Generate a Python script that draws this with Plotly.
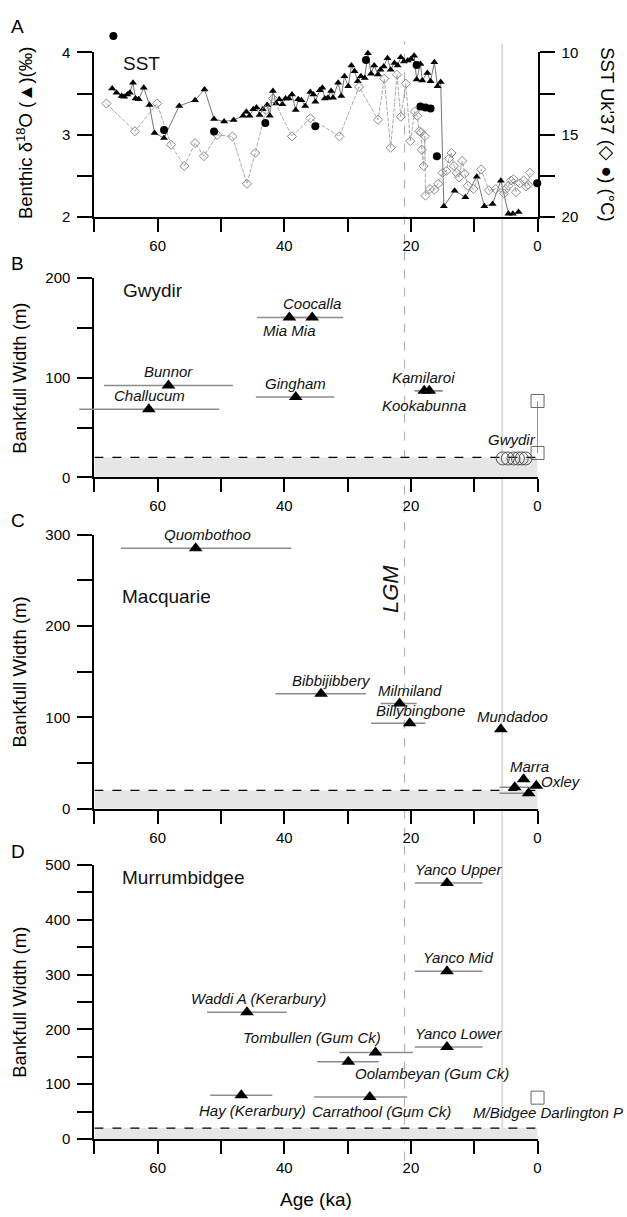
import plotly.graph_objects as go

W, H = 627, 1217

# ---------------- Panel A data ----------------
d18o_age = [67.2, 66.5, 65.7, 65.3, 64.8, 64.4, 63.9, 63.5, 63.0, 62.2, 61.3, 60.5, 59.0, 56.6, 54.1, 52.6,
            51.1, 49.5, 48.0, 46.5, 46.0, 45.5, 44.9, 44.4, 43.9, 43.4, 42.7, 42.3, 41.8, 41.3, 40.8, 40.3,
            39.8, 39.3, 38.8, 38.2, 37.8, 37.3, 36.7, 35.9, 35.4, 35.1, 34.4, 34.0, 33.6, 33.1, 32.6, 32.3,
            31.5, 31.0, 30.5, 29.9, 29.4, 28.9, 28.4, 27.9, 27.3, 26.8, 26.3, 25.8, 25.2, 24.8, 24.3, 23.7,
            23.2, 22.6, 22.1, 21.6, 21.1, 20.5, 20.0, 19.5, 19.1, 18.5, 18.2, 17.4, 16.9, 16.3, 15.8, 15.3,
            14.8, 13.1, 11.4, 9.6, 8.4, 7.1, 5.8, 4.6, 3.9, 3.0]
d18o_val = [3.56, 3.51, 3.47, 3.46, 3.49, 3.51, 3.63, 3.44, 3.43, 3.57, 3.36, 3.02, 2.96, 3.35, 3.42, 3.55,
            3.19, 3.16, 3.18, 3.23, 3.28, 3.23, 3.31, 3.33, 3.24, 3.31, 3.36, 3.23, 3.53, 3.38, 3.43, 3.37,
            3.44, 3.44, 3.49, 3.30, 3.43, 3.42, 3.35, 3.52, 3.49, 3.40, 3.54, 3.57, 3.44, 3.45, 3.53, 3.45,
            3.63, 3.47, 3.71, 3.59, 3.84, 3.77, 3.65, 3.71, 3.69, 3.99, 3.74, 3.84, 3.73, 3.79, 3.83, 3.93,
            3.79, 3.87, 3.84, 3.94, 3.89, 3.90, 3.92, 3.96, 3.67, 3.86, 3.66, 3.75, 3.65, 3.88, 3.59, 3.64,
            2.13, 2.32, 2.24, 2.49, 2.13, 2.16, 2.44, 2.04, 2.04, 2.06]

uk37_age = [68.1, 63.6, 60.1, 57.9, 55.8, 54.1, 52.7, 50.6, 48.2, 45.9, 44.6, 42.9, 41.8, 38.8, 35.9,
            31.3, 28.2, 25.2, 24.2, 23.2, 22.2, 21.6, 20.8, 20.1, 19.4, 19.0, 18.7, 18.4, 18.3, 18.0, 17.8,
            17.7, 17.0, 16.3, 15.7, 15.0, 14.4, 14.0, 13.6, 13.2, 12.8, 12.4, 11.9, 11.5, 11.0, 10.1, 8.9,
            7.7, 6.6, 5.3, 5.0, 4.6, 4.2, 3.8, 3.4, 2.8, 2.2, 1.8, 1.5, 1.2]
uk37_sst = [13.11, 14.79, 13.11, 15.61, 16.90, 15.51, 16.30, 15.01, 15.11, 17.98, 16.11, 13.5, 12.8, 15.1, 14.0,
            15.1, 12.1, 14.09, 11.6, 15.79, 11.36, 13.91, 11.9, 15.39, 13.59, 13.85, 14.79, 14.85, 15.91, 16.9, 15.09,
            18.7, 18.30, 18.34, 17.98, 17.31, 17.2, 16.45, 16.11, 16.9, 17.31, 17.59, 16.59, 17.38, 18.1, 18.3, 17.11,
            18.38, 18.3, 18.58, 18.3, 18.1, 17.78, 17.7, 18.49, 17.95, 17.78, 18.14, 18.04, 17.31]

sst2_age = [67.0, 59.0, 51.1, 43.0, 35.1, 27.1, 19.1, 18.5, 17.7, 16.9, 15.9, 0.05]
sst2_val = [9.0, 14.71, 14.81, 14.29, 14.49, 10.46, 10.76, 13.29, 13.35, 13.41, 16.31, 17.95]

# ---------------- Panel B: Gwydir ----------------
gw_names = ["Challucum", "Bunnor", "Mia Mia", "Coocalla", "Gingham", "Kamilaroi", "Kookabunna"]
gw_age = [61.4, 58.3, 39.2, 35.6, 38.2, 17.1, 17.9]
gw_width = [68.5, 92.3, 160.5, 160.5, 80.6, 87.0, 87.0]
gw_old = [72.4, 68.5, 44.3, 40.5, 44.5, 19.4, 19.4]
gw_young = [50.3, 48.1, 34.5, 30.7, 32.1, 15.0, 15.0]
gw_modern_age = [5.5, 4.7, 3.8, 3.1, 2.5, 1.9]
gw_modern_width = [19, 19, 19, 19, 19, 19]
gw_gauge_age = [0, 0]
gw_gauge_width = [24.5, 76.7]

# ---------------- Panel C: Macquarie ----------------
mq_names = ["Quombothoo", "Bibbijibbery", "Milmiland", "Billybingbone", "Mundadoo", "", "Marra", "", "Oxley"]
mq_age = [54.0, 34.2, 21.8, 20.2, 5.8, 3.6, 2.2, 1.4, 0.2]
mq_width = [284.9, 125.8, 115.0, 93.4, 87.0, 23.4, 32.3, 16.9, 25.2]
mq_old = [65.8, 41.4, 24.8, 26.3, 5.8, 6.0, 2.2, 6.0, 0.2]
mq_young = [38.9, 27.1, 19.1, 17.7, 5.8, 0.3, 2.2, 1.3, 0.2]

# ---------------- Panel D: Murrumbidgee ----------------
mb_names = ["Yanco Upper", "Yanco Mid", "Yanco Lower", "Waddi A (Kerarbury)", "Tombullen (Gum Ck)",
            "Oolambeyan (Gum Ck)", "Hay (Kerarbury)", "Carrathool (Gum Ck)"]
mb_age = [14.3, 14.3, 14.3, 45.9, 25.6, 29.9, 46.8, 26.5]
mb_width = [467, 306, 168, 231, 158, 140.7, 79.6, 76.6]
mb_old = [19.4, 19.4, 19.4, 52.2, 31.3, 34.8, 51.7, 35.3]
mb_young = [8.7, 8.7, 8.7, 39.6, 19.7, 25.1, 41.9, 20.6]
mb_modern_name = "M/Bidgee Darlington P"
mb_modern_age = [0]
mb_modern_width = [75.4]

x_major = [60, 40, 20, 0]
x_minor = [70, 50, 30, 10]
lgm_age = 21.0
holo_age = 5.6
threshold_width = 20

# ---------------- layout helpers ----------------
FONT = "Liberation Sans, Arial, sans-serif"
def py(p):
    return 1 - p / H

X0PX, X1PX = 95, 541
PPK = (X1PX - X0PX) / 70.0
xdom = [X0PX / W, X1PX / W]
xdom_ext = [(X1PX - 74 * PPK) / W, X1PX / W]
doms = {
    "A": [py(211), py(44)],
    "B": [py(475), py(273)],
    "C": [py(811), py(533)],
    "D": [py(1146), py(868)],
}
domA_ext = [py(211), py(211 - 167 * 1.2)]

fig = go.Figure()

def xaxis_cfg(anchor):
    return dict(domain=xdom, range=[70, 0], anchor=anchor, tickmode="array", tickvals=x_major,
                ticks="outside", ticklen=13, tickwidth=1.5, tickcolor="black",
                minor=dict(tickmode="array", tickvals=x_minor, ticks="outside", ticklen=13, tickwidth=1.5,
                           tickcolor="black", showgrid=False),
                showline=True, linecolor="black", linewidth=2, showgrid=False, zeroline=False,
                tickfont=dict(size=15, color="black"), ticklabelstandoff=1)

def yaxis_cfg(anchor, dom, rng, major, minor, side="left", ticklen=15):
    return dict(domain=dom, range=rng, anchor=anchor, tickmode="array", tickvals=major,
                ticks="outside", ticklen=ticklen, tickwidth=1.5, tickcolor="black",
                minor=dict(tickmode="array", tickvals=minor, ticks="outside", ticklen=ticklen, tickwidth=1.5,
                           tickcolor="black", showgrid=False),
                showline=True, linecolor="black", linewidth=2, showgrid=False, zeroline=False, side=side,
                tickfont=dict(size=15, color="black"), ticklabelstandoff=4)

# ---------------- Panel A traces ----------------
fig.add_trace(go.Scatter(x=uk37_age, y=uk37_sst, xaxis="x", yaxis="y2", mode="lines+markers",
                         line=dict(color="#a0a0a0", width=0.9, dash="4px,1.5px"),
                         marker=dict(symbol="diamond-open", size=7, color="#8a8a8a", line=dict(width=1)),
                         cliponaxis=False, showlegend=False))
fig.add_trace(go.Scatter(x=d18o_age, y=d18o_val, xaxis="x", yaxis="y", mode="lines+markers",
                         line=dict(color="#666666", width=0.9),
                         marker=dict(symbol="triangle-up", size=7, color="black"),
                         cliponaxis=False, showlegend=False))
# SST circles on a hidden axis with identical scale but taller extent (one point lies above the frame)
fig.add_trace(go.Scatter(x=sst2_age, y=sst2_val, xaxis="x", yaxis="y6", mode="markers",
                         marker=dict(symbol="circle", size=8, color="black"),
                         cliponaxis=False, showlegend=False))

def err(ages, old, young):
    return dict(type="data", symmetric=False, array=[o - a for a, o in zip(ages, old)],
                arrayminus=[a - y for a, y in zip(ages, young)], color="#8c8c8c", thickness=1.5, width=0)

tri = dict(symbol="triangle-up", size=12, color="black")

# ---------------- Panel B traces ----------------
fig.add_trace(go.Scatter(x=gw_age, y=gw_width, xaxis="x5", yaxis="y3", mode="markers", marker=tri,
                         error_x=err(gw_age, gw_old, gw_young), cliponaxis=False, showlegend=False))
fig.add_trace(go.Scatter(x=gw_modern_age, y=gw_modern_width, xaxis="x2", yaxis="y3", mode="markers",
                         marker=dict(symbol="circle-open", size=13, color="#555555", line=dict(width=1)),
                         cliponaxis=False, showlegend=False))
fig.add_trace(go.Scatter(x=gw_gauge_age, y=gw_gauge_width, xaxis="x2", yaxis="y3", mode="lines+markers",
                         line=dict(color="#333333", width=1),
                         marker=dict(symbol="square-open", size=13, color="#666666", line=dict(width=1)),
                         cliponaxis=False, showlegend=False))

# ---------------- Panel C traces ----------------
fig.add_trace(go.Scatter(x=mq_age, y=mq_width, xaxis="x3", yaxis="y4", mode="markers", marker=tri,
                         error_x=err(mq_age, mq_old, mq_young), cliponaxis=False, showlegend=False))

# ---------------- Panel D traces ----------------
fig.add_trace(go.Scatter(x=mb_age, y=mb_width, xaxis="x4", yaxis="y5", mode="markers", marker=tri,
                         error_x=err(mb_age, mb_old, mb_young), cliponaxis=False, showlegend=False))
fig.add_trace(go.Scatter(x=mb_modern_age, y=mb_modern_width, xaxis="x4", yaxis="y5", mode="markers",
                         marker=dict(symbol="square-open", size=13, color="#666666", line=dict(width=1)),
                         cliponaxis=False, showlegend=False))

# ---------------- shapes ----------------
shapes = []
for xr, yr in [("x2", "y3"), ("x3", "y4"), ("x4", "y5")]:
    shapes.append(dict(type="rect", xref=xr, yref=yr, x0=70, x1=0, y0=0, y1=threshold_width,
                       fillcolor="#e6e6e6", line=dict(width=0), layer="below"))
    shapes.append(dict(type="line", xref=xr, yref=yr, x0=70, x1=0, y0=threshold_width, y1=threshold_width,
                       line=dict(color="black", width=1.2, dash="dash"), layer="below"))
shapes.append(dict(type="line", xref="x", yref="paper", x0=lgm_age, x1=lgm_age, y0=py(1168), y1=py(33),
                   line=dict(color="#aaaaaa", width=1, dash="dash"), layer="below"))
shapes.append(dict(type="line", xref="x", yref="paper", x0=holo_age, x1=holo_age, y0=py(1146), y1=py(35),
                   line=dict(color="#c8c8c8", width=1.2), layer="below"))

# ---------------- annotations ----------------
ann = []
def lab(text, xr, yr, x, y, size=15, xshift=0, italic=True, xanchor="center"):
    ann.append(dict(text=("<i>%s</i>" % text) if italic else text, xref=xr, yref=yr, x=x, y=y,
                    showarrow=False, xanchor=xanchor, yanchor="middle", xshift=xshift,
                    font=dict(size=size, color="#111111", family=FONT)))

gw_label_pos = {"Coocalla": (35.6, 175), "Mia Mia": (39.2, 147), "Bunnor": (58.3, 106),
                "Challucum": (61.3, 82.6), "Gingham": (38.2, 94.6), "Kamilaroi": (18.0, 100),
                "Kookabunna": (17.9, 71.8)}
for n in gw_names:
    lab(n, "x2", "y3", *gw_label_pos[n])
lab("Gwydir", "x2", "y3", 4.1, 38.5)

mq_label_pos = {"Quombothoo": (52.2, 300), "Bibbijibbery": (32.5, 140.8), "Milmiland": (20.1, 129.3),
                "Billybingbone": (18.5, 107.8), "Mundadoo": (3.9, 101), "Marra": (1.3, 46.7)}
for n in mq_names:
    if n in mq_label_pos:
        lab(n, "x3", "y4", *mq_label_pos[n])
lab("Oxley", "x3", "y4", 0, 29.8, xshift=23)

mb_label_pos = {"Yanco Upper": (12.5, 491), "Yanco Mid": (12.5, 331), "Yanco Lower": (12.5, 192),
                "Waddi A (Kerarbury)": (44.1, 256), "Tombullen (Gum Ck)": (35.7, 184.4),
                "Oolambeyan (Gum Ck)": (16.6, 118.6), "Hay (Kerarbury)": (45.0, 51.5),
                "Carrathool (Gum Ck)": (24.6, 49.7)}
for n in mb_names:
    lab(n, "x4", "y5", *mb_label_pos[n])
lab(mb_modern_name, "x4", "y5", 0, 47.9, xshift=10)

# panel titles
lab("SST", "x", "y", 65.8, 3.87, size=19, italic=False, xanchor="left")
lab("Gwydir", "x2", "y3", 65.8, 187.6, size=19, italic=False, xanchor="left")
lab("Macquarie", "x3", "y4", 66.0, 231.7, size=19, italic=False, xanchor="left")
lab("Murrumbidgee", "x4", "y5", 66.0, 477.8, size=19, italic=False, xanchor="left")

# LGM
ann.append(dict(text="<i>LGM</i>", xref="x3", yref="y4", x=23.2, y=240, showarrow=False, textangle=-90,
                font=dict(size=22, color="#111111", family=FONT)))

# panel letters
for letter, ypx in [("A", 18), ("B", 258), ("C", 519), ("D", 854)]:
    ann.append(dict(text=letter, xref="paper", yref="paper", x=18 / W, y=py(ypx), showarrow=False,
                    xanchor="center", yanchor="middle", font=dict(size=19, color="black", family=FONT)))

# axis titles
ann.append(dict(text="Benthic \u03b4<sup>18</sup>O (\u25b2)(\u2030)", xref="paper", yref="paper",
                x=25 / W, y=py(125), showarrow=False, textangle=-90, xanchor="center", yanchor="middle",
                font=dict(size=18.5, color="black", family=FONT)))
ann.append(dict(text="SST Uk'37 (\u25c7 \u25cf) (\u00b0C)", xref="paper", yref="paper",
                x=612 / W, y=py(127), showarrow=False, textangle=90, xanchor="center", yanchor="middle",
                font=dict(size=18.5, color="black", family=FONT)))
for ypx in [374, 672, 1007]:
    ann.append(dict(text="Bankfull Width (m)", xref="paper", yref="paper", x=20 / W, y=py(ypx),
                    showarrow=False, textangle=-90, xanchor="center", yanchor="middle",
                    font=dict(size=18.5, color="black", family=FONT)))
ann.append(dict(text="Age (ka)", xref="paper", yref="paper", x=318 / W, y=py(1207), showarrow=False,
                xanchor="center", yanchor="middle", font=dict(size=19, color="black", family=FONT)))

fig.update_layout(
    width=W, height=H, margin=dict(l=0, r=0, t=0, b=0),
    paper_bgcolor="white", plot_bgcolor="rgba(0,0,0,0)",
    font=dict(family=FONT, color="black"),
    showlegend=False,
    xaxis=xaxis_cfg("y"),
    yaxis=yaxis_cfg("x", doms["A"], [2, 4], [2, 3, 4], [2.5, 3.5]),
    yaxis2=dict(yaxis_cfg("x", doms["A"], [20, 10], [10, 15, 20], [12.5, 17.5], side="right", ticklen=15),
                overlaying="y"),
    yaxis6=dict(domain=domA_ext, range=[20, 8], anchor="x", visible=False, showgrid=False, zeroline=False),
    xaxis2=xaxis_cfg("y3"),
    xaxis5=dict(domain=xdom_ext, range=[74, 0], anchor="y3", visible=False, showgrid=False, zeroline=False),
    yaxis3=yaxis_cfg("x2", doms["B"], [0, 200], [0, 100, 200], [50, 150]),
    xaxis3=xaxis_cfg("y4"),
    yaxis4=yaxis_cfg("x3", doms["C"], [0, 300], [0, 100, 200, 300], [50, 150, 250]),
    xaxis4=xaxis_cfg("y5"),
    yaxis5=yaxis_cfg("x4", doms["D"], [0, 500], [0, 100, 200, 300, 400, 500], [50, 150, 250, 350, 450]),
    shapes=shapes,
    annotations=ann,
)

fig.write_html("out.html")
